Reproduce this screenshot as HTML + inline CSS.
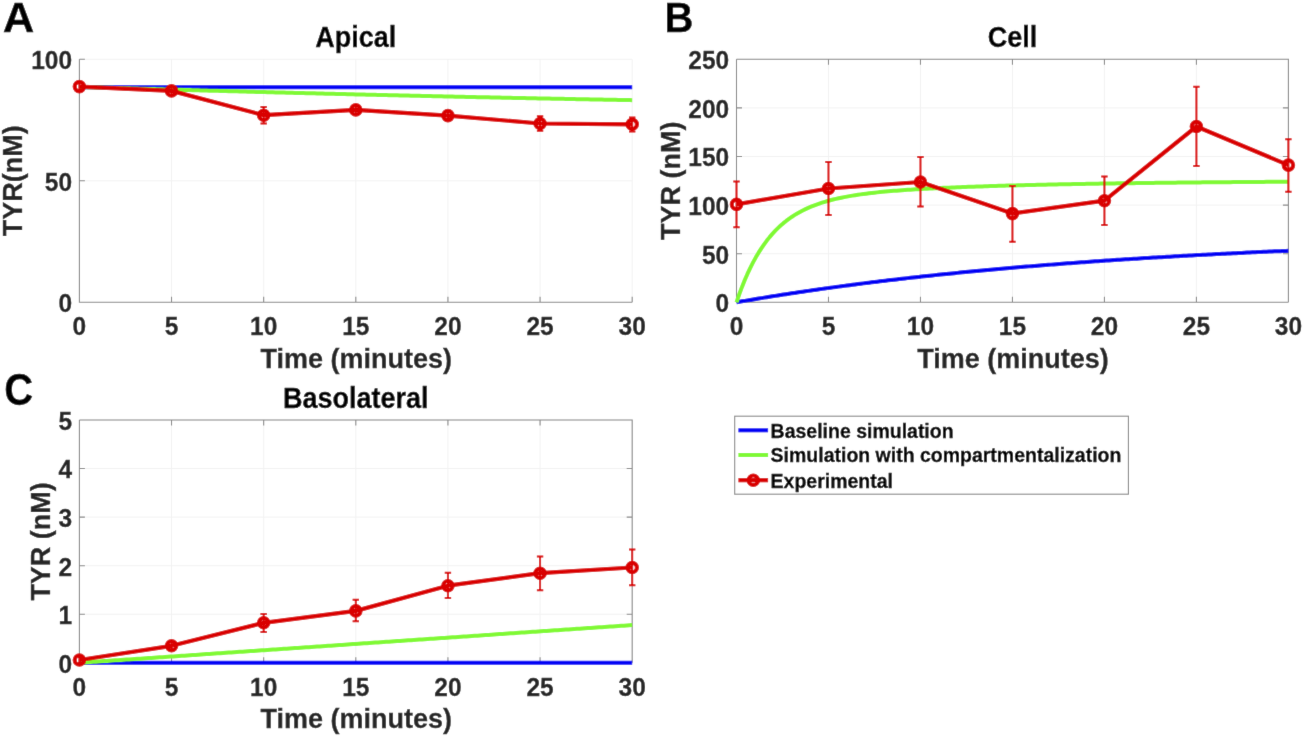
<!DOCTYPE html>
<html><head><meta charset="utf-8"><style>html,body{margin:0;padding:0;background:#fff;overflow:hidden}svg{display:block;will-change:transform}</style></head><body>
<svg width="1304" height="736" viewBox="0 0 1304 736" style="font-family:&quot;Liberation Sans&quot;,sans-serif;font-weight:bold">
<defs><filter id="soft" filterUnits="userSpaceOnUse" x="-4" y="-4" width="1312" height="744"><feConvolveMatrix order="3" kernelMatrix="0.00524 0.06192 0.00524 0.06192 0.73137 0.06192 0.00524 0.06192 0.00524" edgeMode="duplicate" preserveAlpha="true"/></filter></defs>
<g filter="url(#soft)">
<rect x="-10" y="-10" width="1324" height="756" fill="#fff"/>
<path d="M171.53,59.30V302.30M263.67,59.30V302.30M355.80,59.30V302.30M447.93,59.30V302.30M540.07,59.30V302.30M632.20,59.30V302.30M79.40,180.80H632.20M79.40,59.30H632.20" stroke="#f2f2f2" stroke-width="1" fill="none"/>
<path d="M79.40,59.30V302.30H632.20M79.40,302.30v-5.5M171.53,302.30v-5.5M263.67,302.30v-5.5M355.80,302.30v-5.5M447.93,302.30v-5.5M540.07,302.30v-5.5M632.20,302.30v-5.5M79.40,302.30h5.5M79.40,180.80h5.5M79.40,59.30h5.5" stroke="#8a8a8a" stroke-width="1.1" fill="none"/>
<text transform="translate(79.40,335.00) scale(1,1.035)" x="0" y="0" text-anchor="middle" font-size="24.5" fill="#262626" stroke="#262626" stroke-width="0.3">0</text>
<text transform="translate(171.53,335.00) scale(1,1.035)" x="0" y="0" text-anchor="middle" font-size="24.5" fill="#262626" stroke="#262626" stroke-width="0.3">5</text>
<text transform="translate(263.67,335.00) scale(1,1.035)" x="0" y="0" text-anchor="middle" font-size="24.5" fill="#262626" stroke="#262626" stroke-width="0.3">10</text>
<text transform="translate(355.80,335.00) scale(1,1.035)" x="0" y="0" text-anchor="middle" font-size="24.5" fill="#262626" stroke="#262626" stroke-width="0.3">15</text>
<text transform="translate(447.93,335.00) scale(1,1.035)" x="0" y="0" text-anchor="middle" font-size="24.5" fill="#262626" stroke="#262626" stroke-width="0.3">20</text>
<text transform="translate(540.07,335.00) scale(1,1.035)" x="0" y="0" text-anchor="middle" font-size="24.5" fill="#262626" stroke="#262626" stroke-width="0.3">25</text>
<text transform="translate(632.20,335.00) scale(1,1.035)" x="0" y="0" text-anchor="middle" font-size="24.5" fill="#262626" stroke="#262626" stroke-width="0.3">30</text>
<text transform="translate(72.10,312.20) scale(1,1.035)" x="0" y="0" text-anchor="end" font-size="24.5" fill="#262626" stroke="#262626" stroke-width="0.3">0</text>
<text transform="translate(72.10,190.70) scale(1,1.035)" x="0" y="0" text-anchor="end" font-size="24.5" fill="#262626" stroke="#262626" stroke-width="0.3">50</text>
<text transform="translate(72.10,69.20) scale(1,1.035)" x="0" y="0" text-anchor="end" font-size="24.5" fill="#262626" stroke="#262626" stroke-width="0.3">100</text>
<text transform="translate(356.30,367.70) scale(1,1.035)" x="0" y="0" text-anchor="middle" font-size="27" fill="#262626" stroke="#262626" stroke-width="0.3">Time (minutes)</text>
<text transform="translate(22.00,180.80) rotate(-90) scale(1,1.035)" x="0" y="0" text-anchor="middle" font-size="27" fill="#262626" stroke="#262626" stroke-width="0.3">TYR(nM)</text>
<text transform="translate(355.80,46.90) scale(1,1.07)" x="0" y="0" text-anchor="middle" font-size="27" fill="#000" stroke="#000" stroke-width="0.3">Apical</text>
<polyline points="79.40,87.25 82.16,87.25 84.93,87.25 87.69,87.25 90.46,87.25 93.22,87.25 95.98,87.25 98.75,87.25 101.51,87.25 104.28,87.25 107.04,87.25 109.80,87.25 112.57,87.25 115.33,87.25 118.10,87.25 120.86,87.25 123.62,87.25 126.39,87.25 129.15,87.25 131.92,87.25 134.68,87.25 137.44,87.25 140.21,87.25 142.97,87.25 145.74,87.25 148.50,87.25 151.26,87.25 154.03,87.25 156.79,87.25 159.56,87.25 162.32,87.25 165.08,87.25 167.85,87.25 170.61,87.25 173.38,87.25 176.14,87.25 178.90,87.25 181.67,87.25 184.43,87.25 187.20,87.25 189.96,87.25 192.72,87.25 195.49,87.25 198.25,87.25 201.02,87.25 203.78,87.25 206.54,87.25 209.31,87.25 212.07,87.25 214.84,87.25 217.60,87.25 220.36,87.25 223.13,87.25 225.89,87.25 228.66,87.25 231.42,87.25 234.18,87.25 236.95,87.25 239.71,87.25 242.48,87.25 245.24,87.25 248.00,87.25 250.77,87.25 253.53,87.25 256.30,87.25 259.06,87.25 261.82,87.25 264.59,87.25 267.35,87.25 270.12,87.25 272.88,87.25 275.64,87.25 278.41,87.25 281.17,87.25 283.94,87.25 286.70,87.25 289.46,87.25 292.23,87.25 294.99,87.25 297.76,87.25 300.52,87.25 303.28,87.25 306.05,87.25 308.81,87.25 311.58,87.25 314.34,87.25 317.10,87.25 319.87,87.25 322.63,87.25 325.40,87.25 328.16,87.25 330.92,87.25 333.69,87.25 336.45,87.25 339.22,87.25 341.98,87.25 344.74,87.25 347.51,87.25 350.27,87.25 353.04,87.25 355.80,87.25 358.56,87.25 361.33,87.25 364.09,87.25 366.86,87.25 369.62,87.25 372.38,87.25 375.15,87.25 377.91,87.25 380.68,87.25 383.44,87.25 386.20,87.25 388.97,87.25 391.73,87.25 394.50,87.25 397.26,87.25 400.02,87.25 402.79,87.25 405.55,87.25 408.32,87.25 411.08,87.25 413.84,87.25 416.61,87.25 419.37,87.25 422.14,87.25 424.90,87.25 427.66,87.25 430.43,87.25 433.19,87.25 435.96,87.25 438.72,87.25 441.48,87.25 444.25,87.25 447.01,87.25 449.78,87.25 452.54,87.25 455.30,87.25 458.07,87.25 460.83,87.25 463.60,87.25 466.36,87.25 469.12,87.25 471.89,87.25 474.65,87.25 477.42,87.25 480.18,87.25 482.94,87.25 485.71,87.25 488.47,87.25 491.24,87.25 494.00,87.25 496.76,87.25 499.53,87.25 502.29,87.25 505.06,87.25 507.82,87.25 510.58,87.25 513.35,87.25 516.11,87.25 518.88,87.25 521.64,87.25 524.40,87.25 527.17,87.25 529.93,87.25 532.70,87.25 535.46,87.25 538.22,87.25 540.99,87.25 543.75,87.25 546.52,87.25 549.28,87.25 552.04,87.25 554.81,87.25 557.57,87.25 560.34,87.25 563.10,87.25 565.86,87.25 568.63,87.25 571.39,87.25 574.16,87.25 576.92,87.25 579.68,87.25 582.45,87.25 585.21,87.25 587.98,87.25 590.74,87.25 593.50,87.25 596.27,87.25 599.03,87.25 601.80,87.25 604.56,87.25 607.32,87.25 610.09,87.25 612.85,87.25 615.62,87.25 618.38,87.25 621.14,87.25 623.91,87.25 626.67,87.25 629.44,87.25 632.20,87.25" stroke="#0000f5" stroke-width="4.0" fill="none" stroke-linejoin="round"/>
<polyline points="79.40,86.88 82.16,86.96 84.93,87.05 87.69,87.13 90.46,87.21 93.22,87.30 95.98,87.38 98.75,87.46 101.51,87.55 104.28,87.63 107.04,87.71 109.80,87.79 112.57,87.87 115.33,87.96 118.10,88.04 120.86,88.12 123.62,88.20 126.39,88.28 129.15,88.36 131.92,88.44 134.68,88.52 137.44,88.60 140.21,88.68 142.97,88.76 145.74,88.84 148.50,88.92 151.26,89.00 154.03,89.08 156.79,89.16 159.56,89.24 162.32,89.32 165.08,89.40 167.85,89.47 170.61,89.55 173.38,89.63 176.14,89.71 178.90,89.79 181.67,89.86 184.43,89.94 187.20,90.02 189.96,90.09 192.72,90.17 195.49,90.25 198.25,90.32 201.02,90.40 203.78,90.48 206.54,90.55 209.31,90.63 212.07,90.70 214.84,90.78 217.60,90.85 220.36,90.93 223.13,91.00 225.89,91.08 228.66,91.15 231.42,91.23 234.18,91.30 236.95,91.37 239.71,91.45 242.48,91.52 245.24,91.60 248.00,91.67 250.77,91.74 253.53,91.81 256.30,91.89 259.06,91.96 261.82,92.03 264.59,92.10 267.35,92.18 270.12,92.25 272.88,92.32 275.64,92.39 278.41,92.46 281.17,92.53 283.94,92.61 286.70,92.68 289.46,92.75 292.23,92.82 294.99,92.89 297.76,92.96 300.52,93.03 303.28,93.10 306.05,93.17 308.81,93.24 311.58,93.31 314.34,93.37 317.10,93.44 319.87,93.51 322.63,93.58 325.40,93.65 328.16,93.72 330.92,93.79 333.69,93.85 336.45,93.92 339.22,93.99 341.98,94.06 344.74,94.12 347.51,94.19 350.27,94.26 353.04,94.32 355.80,94.39 358.56,94.46 361.33,94.52 364.09,94.59 366.86,94.65 369.62,94.72 372.38,94.78 375.15,94.85 377.91,94.91 380.68,94.98 383.44,95.04 386.20,95.11 388.97,95.17 391.73,95.24 394.50,95.30 397.26,95.36 400.02,95.43 402.79,95.49 405.55,95.55 408.32,95.62 411.08,95.68 413.84,95.74 416.61,95.81 419.37,95.87 422.14,95.93 424.90,95.99 427.66,96.05 430.43,96.12 433.19,96.18 435.96,96.24 438.72,96.30 441.48,96.36 444.25,96.42 447.01,96.48 449.78,96.54 452.54,96.60 455.30,96.66 458.07,96.72 460.83,96.78 463.60,96.84 466.36,96.90 469.12,96.96 471.89,97.02 474.65,97.08 477.42,97.14 480.18,97.20 482.94,97.26 485.71,97.31 488.47,97.37 491.24,97.43 494.00,97.49 496.76,97.54 499.53,97.60 502.29,97.66 505.06,97.72 507.82,97.77 510.58,97.83 513.35,97.89 516.11,97.94 518.88,98.00 521.64,98.05 524.40,98.11 527.17,98.17 529.93,98.22 532.70,98.28 535.46,98.33 538.22,98.39 540.99,98.44 543.75,98.50 546.52,98.55 549.28,98.60 552.04,98.66 554.81,98.71 557.57,98.77 560.34,98.82 563.10,98.87 565.86,98.93 568.63,98.98 571.39,99.03 574.16,99.08 576.92,99.14 579.68,99.19 582.45,99.24 585.21,99.29 587.98,99.34 590.74,99.40 593.50,99.45 596.27,99.50 599.03,99.55 601.80,99.60 604.56,99.65 607.32,99.70 610.09,99.75 612.85,99.80 615.62,99.85 618.38,99.90 621.14,99.95 623.91,100.00 626.67,100.05 629.44,100.10 632.20,100.15" stroke="#80f930" stroke-width="4.0" fill="none" stroke-linejoin="round"/>
<path d="M79.40,82.60V90.60M76.20,82.60h6.4M76.20,90.60h6.4M171.53,86.90V94.90M168.33,86.90h6.4M168.33,94.90h6.4M263.67,107.00V123.50M260.47,107.00h6.4M260.47,123.50h6.4M355.80,105.90V113.90M352.60,105.90h6.4M352.60,113.90h6.4M447.93,111.60V119.60M444.73,111.60h6.4M444.73,119.60h6.4M540.07,116.30V130.80M536.87,116.30h6.4M536.87,130.80h6.4M632.20,117.50V131.40M629.00,117.50h6.4M629.00,131.40h6.4" stroke="#d90000" stroke-width="2" fill="none"/>
<polyline points="79.40,86.60 171.53,90.90 263.67,115.20 355.80,109.90 447.93,115.60 540.07,123.50 632.20,124.30" stroke="#d90000" stroke-width="4.2" fill="none" stroke-linejoin="round"/>
<circle cx="79.40" cy="86.60" r="4.7" stroke="#d90000" stroke-width="4.2" fill="none"/>
<circle cx="171.53" cy="90.90" r="4.7" stroke="#d90000" stroke-width="4.2" fill="none"/>
<circle cx="263.67" cy="115.20" r="4.7" stroke="#d90000" stroke-width="4.2" fill="none"/>
<circle cx="355.80" cy="109.90" r="4.7" stroke="#d90000" stroke-width="4.2" fill="none"/>
<circle cx="447.93" cy="115.60" r="4.7" stroke="#d90000" stroke-width="4.2" fill="none"/>
<circle cx="540.07" cy="123.50" r="4.7" stroke="#d90000" stroke-width="4.2" fill="none"/>
<circle cx="632.20" cy="124.30" r="4.7" stroke="#d90000" stroke-width="4.2" fill="none"/>
<path d="M828.48,59.30V302.30M920.47,59.30V302.30M1012.45,59.30V302.30M1104.43,59.30V302.30M1196.42,59.30V302.30M1288.40,59.30V302.30M736.50,253.70H1288.40M736.50,205.10H1288.40M736.50,156.50H1288.40M736.50,107.90H1288.40M736.50,59.30H1288.40" stroke="#f2f2f2" stroke-width="1" fill="none"/>
<path d="M736.50,59.30V302.30H1288.40M736.50,59.30H1288.40V302.30M736.50,302.30v-5.5M736.50,59.30v5.5M828.48,302.30v-5.5M828.48,59.30v5.5M920.47,302.30v-5.5M920.47,59.30v5.5M1012.45,302.30v-5.5M1012.45,59.30v5.5M1104.43,302.30v-5.5M1104.43,59.30v5.5M1196.42,302.30v-5.5M1196.42,59.30v5.5M1288.40,302.30v-5.5M1288.40,59.30v5.5M736.50,302.30h5.5M1288.40,302.30h-5.5M736.50,253.70h5.5M1288.40,253.70h-5.5M736.50,205.10h5.5M1288.40,205.10h-5.5M736.50,156.50h5.5M1288.40,156.50h-5.5M736.50,107.90h5.5M1288.40,107.90h-5.5M736.50,59.30h5.5M1288.40,59.30h-5.5" stroke="#8a8a8a" stroke-width="1.1" fill="none"/>
<text transform="translate(736.50,335.00) scale(1,1.035)" x="0" y="0" text-anchor="middle" font-size="24.5" fill="#262626" stroke="#262626" stroke-width="0.3">0</text>
<text transform="translate(828.48,335.00) scale(1,1.035)" x="0" y="0" text-anchor="middle" font-size="24.5" fill="#262626" stroke="#262626" stroke-width="0.3">5</text>
<text transform="translate(920.47,335.00) scale(1,1.035)" x="0" y="0" text-anchor="middle" font-size="24.5" fill="#262626" stroke="#262626" stroke-width="0.3">10</text>
<text transform="translate(1012.45,335.00) scale(1,1.035)" x="0" y="0" text-anchor="middle" font-size="24.5" fill="#262626" stroke="#262626" stroke-width="0.3">15</text>
<text transform="translate(1104.43,335.00) scale(1,1.035)" x="0" y="0" text-anchor="middle" font-size="24.5" fill="#262626" stroke="#262626" stroke-width="0.3">20</text>
<text transform="translate(1196.42,335.00) scale(1,1.035)" x="0" y="0" text-anchor="middle" font-size="24.5" fill="#262626" stroke="#262626" stroke-width="0.3">25</text>
<text transform="translate(1288.40,335.00) scale(1,1.035)" x="0" y="0" text-anchor="middle" font-size="24.5" fill="#262626" stroke="#262626" stroke-width="0.3">30</text>
<text transform="translate(729.20,312.20) scale(1,1.035)" x="0" y="0" text-anchor="end" font-size="24.5" fill="#262626" stroke="#262626" stroke-width="0.3">0</text>
<text transform="translate(729.20,263.60) scale(1,1.035)" x="0" y="0" text-anchor="end" font-size="24.5" fill="#262626" stroke="#262626" stroke-width="0.3">50</text>
<text transform="translate(729.20,215.00) scale(1,1.035)" x="0" y="0" text-anchor="end" font-size="24.5" fill="#262626" stroke="#262626" stroke-width="0.3">100</text>
<text transform="translate(729.20,166.40) scale(1,1.035)" x="0" y="0" text-anchor="end" font-size="24.5" fill="#262626" stroke="#262626" stroke-width="0.3">150</text>
<text transform="translate(729.20,117.80) scale(1,1.035)" x="0" y="0" text-anchor="end" font-size="24.5" fill="#262626" stroke="#262626" stroke-width="0.3">200</text>
<text transform="translate(729.20,69.20) scale(1,1.035)" x="0" y="0" text-anchor="end" font-size="24.5" fill="#262626" stroke="#262626" stroke-width="0.3">250</text>
<text transform="translate(1012.95,367.70) scale(1,1.035)" x="0" y="0" text-anchor="middle" font-size="27" fill="#262626" stroke="#262626" stroke-width="0.3">Time (minutes)</text>
<text transform="translate(679.50,180.80) rotate(-90) scale(1,1.035)" x="0" y="0" text-anchor="middle" font-size="27" fill="#262626" stroke="#262626" stroke-width="0.3">TYR (nM)</text>
<text transform="translate(1012.45,46.90) scale(1,1.07)" x="0" y="0" text-anchor="middle" font-size="27" fill="#000" stroke="#000" stroke-width="0.3">Cell</text>
<polyline points="736.50,302.30 739.26,301.82 742.02,301.34 744.78,300.87 747.54,300.40 750.30,299.93 753.06,299.47 755.82,299.01 758.58,298.55 761.34,298.10 764.10,297.65 766.85,297.20 769.61,296.76 772.37,296.32 775.13,295.88 777.89,295.44 780.65,295.01 783.41,294.58 786.17,294.16 788.93,293.74 791.69,293.32 794.45,292.90 797.21,292.49 799.97,292.08 802.73,291.67 805.49,291.26 808.25,290.86 811.01,290.46 813.77,290.06 816.53,289.67 819.28,289.28 822.04,288.89 824.80,288.51 827.56,288.12 830.32,287.74 833.08,287.37 835.84,286.99 838.60,286.62 841.36,286.25 844.12,285.88 846.88,285.52 849.64,285.16 852.40,284.80 855.16,284.44 857.92,284.09 860.68,283.74 863.44,283.39 866.20,283.04 868.96,282.70 871.72,282.35 874.48,282.02 877.23,281.68 879.99,281.34 882.75,281.01 885.51,280.68 888.27,280.35 891.03,280.03 893.79,279.71 896.55,279.39 899.31,279.07 902.07,278.75 904.83,278.44 907.59,278.13 910.35,277.82 913.11,277.51 915.87,277.20 918.63,276.90 921.39,276.60 924.15,276.30 926.91,276.00 929.66,275.71 932.42,275.42 935.18,275.13 937.94,274.84 940.70,274.55 943.46,274.27 946.22,273.99 948.98,273.71 951.74,273.43 954.50,273.15 957.26,272.88 960.02,272.60 962.78,272.33 965.54,272.07 968.30,271.80 971.06,271.53 973.82,271.27 976.58,271.01 979.34,270.75 982.10,270.49 984.86,270.24 987.61,269.98 990.37,269.73 993.13,269.48 995.89,269.23 998.65,268.99 1001.41,268.74 1004.17,268.50 1006.93,268.26 1009.69,268.02 1012.45,267.78 1015.21,267.54 1017.97,267.31 1020.73,267.07 1023.49,266.84 1026.25,266.61 1029.01,266.38 1031.77,266.16 1034.53,265.93 1037.29,265.71 1040.05,265.49 1042.80,265.27 1045.56,265.05 1048.32,264.83 1051.08,264.62 1053.84,264.40 1056.60,264.19 1059.36,263.98 1062.12,263.77 1064.88,263.56 1067.64,263.35 1070.40,263.15 1073.16,262.94 1075.92,262.74 1078.68,262.54 1081.44,262.34 1084.20,262.14 1086.96,261.95 1089.72,261.75 1092.48,261.56 1095.24,261.36 1097.99,261.17 1100.75,260.98 1103.51,260.79 1106.27,260.61 1109.03,260.42 1111.79,260.24 1114.55,260.05 1117.31,259.87 1120.07,259.69 1122.83,259.51 1125.59,259.33 1128.35,259.16 1131.11,258.98 1133.87,258.81 1136.63,258.63 1139.39,258.46 1142.15,258.29 1144.91,258.12 1147.67,257.95 1150.43,257.79 1153.18,257.62 1155.94,257.45 1158.70,257.29 1161.46,257.13 1164.22,256.97 1166.98,256.81 1169.74,256.65 1172.50,256.49 1175.26,256.33 1178.02,256.18 1180.78,256.02 1183.54,255.87 1186.30,255.72 1189.06,255.57 1191.82,255.42 1194.58,255.27 1197.34,255.12 1200.10,254.97 1202.86,254.82 1205.62,254.68 1208.37,254.54 1211.13,254.39 1213.89,254.25 1216.65,254.11 1219.41,253.97 1222.17,253.83 1224.93,253.69 1227.69,253.56 1230.45,253.42 1233.21,253.28 1235.97,253.15 1238.73,253.02 1241.49,252.88 1244.25,252.75 1247.01,252.62 1249.77,252.49 1252.53,252.36 1255.29,252.24 1258.05,252.11 1260.81,251.98 1263.56,251.86 1266.32,251.73 1269.08,251.61 1271.84,251.49 1274.60,251.37 1277.36,251.25 1280.12,251.13 1282.88,251.01 1285.64,250.89 1288.40,250.77" stroke="#0000f5" stroke-width="4.0" fill="none" stroke-linejoin="round"/>
<polyline points="736.50,302.30 739.26,294.31 742.02,286.91 744.78,280.07 747.54,273.72 750.30,267.85 753.06,262.40 755.82,257.35 758.58,252.68 761.34,248.34 764.10,244.32 766.85,240.59 769.61,237.12 772.37,233.91 775.13,230.92 777.89,228.15 780.65,225.57 783.41,223.18 786.17,220.95 788.93,218.88 791.69,216.95 794.45,215.16 797.21,213.48 799.97,211.93 802.73,210.47 805.49,209.12 808.25,207.85 811.01,206.67 813.77,205.56 816.53,204.52 819.28,203.56 822.04,202.65 824.80,201.80 827.56,201.00 830.32,200.25 833.08,199.55 835.84,198.89 838.60,198.26 841.36,197.68 844.12,197.12 846.88,196.60 849.64,196.11 852.40,195.64 855.16,195.20 857.92,194.78 860.68,194.38 863.44,194.01 866.20,193.65 868.96,193.31 871.72,192.98 874.48,192.68 877.23,192.38 879.99,192.10 882.75,191.83 885.51,191.57 888.27,191.33 891.03,191.09 893.79,190.86 896.55,190.64 899.31,190.43 902.07,190.23 904.83,190.03 907.59,189.85 910.35,189.66 913.11,189.49 915.87,189.32 918.63,189.15 921.39,188.99 924.15,188.84 926.91,188.69 929.66,188.54 932.42,188.40 935.18,188.26 937.94,188.13 940.70,188.00 943.46,187.87 946.22,187.75 948.98,187.63 951.74,187.51 954.50,187.40 957.26,187.28 960.02,187.17 962.78,187.07 965.54,186.96 968.30,186.86 971.06,186.76 973.82,186.66 976.58,186.56 979.34,186.47 982.10,186.38 984.86,186.29 987.61,186.20 990.37,186.11 993.13,186.02 995.89,185.94 998.65,185.86 1001.41,185.78 1004.17,185.70 1006.93,185.62 1009.69,185.54 1012.45,185.47 1015.21,185.39 1017.97,185.32 1020.73,185.25 1023.49,185.18 1026.25,185.11 1029.01,185.04 1031.77,184.97 1034.53,184.91 1037.29,184.84 1040.05,184.78 1042.80,184.72 1045.56,184.66 1048.32,184.60 1051.08,184.54 1053.84,184.48 1056.60,184.42 1059.36,184.36 1062.12,184.31 1064.88,184.25 1067.64,184.20 1070.40,184.15 1073.16,184.09 1075.92,184.04 1078.68,183.99 1081.44,183.94 1084.20,183.89 1086.96,183.84 1089.72,183.80 1092.48,183.75 1095.24,183.70 1097.99,183.66 1100.75,183.61 1103.51,183.57 1106.27,183.53 1109.03,183.48 1111.79,183.44 1114.55,183.40 1117.31,183.36 1120.07,183.32 1122.83,183.28 1125.59,183.24 1128.35,183.20 1131.11,183.16 1133.87,183.13 1136.63,183.09 1139.39,183.05 1142.15,183.02 1144.91,182.98 1147.67,182.95 1150.43,182.92 1153.18,182.88 1155.94,182.85 1158.70,182.82 1161.46,182.79 1164.22,182.75 1166.98,182.72 1169.74,182.69 1172.50,182.66 1175.26,182.63 1178.02,182.60 1180.78,182.58 1183.54,182.55 1186.30,182.52 1189.06,182.49 1191.82,182.47 1194.58,182.44 1197.34,182.41 1200.10,182.39 1202.86,182.36 1205.62,182.34 1208.37,182.31 1211.13,182.29 1213.89,182.26 1216.65,182.24 1219.41,182.22 1222.17,182.19 1224.93,182.17 1227.69,182.15 1230.45,182.13 1233.21,182.11 1235.97,182.09 1238.73,182.07 1241.49,182.04 1244.25,182.02 1247.01,182.00 1249.77,181.99 1252.53,181.97 1255.29,181.95 1258.05,181.93 1260.81,181.91 1263.56,181.89 1266.32,181.87 1269.08,181.86 1271.84,181.84 1274.60,181.82 1277.36,181.81 1280.12,181.79 1282.88,181.77 1285.64,181.76 1288.40,181.74" stroke="#80f930" stroke-width="4.0" fill="none" stroke-linejoin="round"/>
<path d="M736.50,181.40V227.30M733.30,181.40h6.4M733.30,227.30h6.4M828.48,162.00V215.00M825.28,162.00h6.4M825.28,215.00h6.4M920.47,156.90V206.60M917.27,156.90h6.4M917.27,206.60h6.4M1012.45,186.00V241.80M1009.25,186.00h6.4M1009.25,241.80h6.4M1104.43,176.40V225.00M1101.23,176.40h6.4M1101.23,225.00h6.4M1196.42,86.80V165.90M1193.22,86.80h6.4M1193.22,165.90h6.4M1288.40,139.30V191.70M1285.20,139.30h6.4M1285.20,191.70h6.4" stroke="#d90000" stroke-width="2" fill="none"/>
<polyline points="736.50,204.40 828.48,188.50 920.47,182.00 1012.45,213.60 1104.43,200.70 1196.42,126.50 1288.40,165.10" stroke="#d90000" stroke-width="4.2" fill="none" stroke-linejoin="round"/>
<circle cx="736.50" cy="204.40" r="4.7" stroke="#d90000" stroke-width="4.2" fill="none"/>
<circle cx="828.48" cy="188.50" r="4.7" stroke="#d90000" stroke-width="4.2" fill="none"/>
<circle cx="920.47" cy="182.00" r="4.7" stroke="#d90000" stroke-width="4.2" fill="none"/>
<circle cx="1012.45" cy="213.60" r="4.7" stroke="#d90000" stroke-width="4.2" fill="none"/>
<circle cx="1104.43" cy="200.70" r="4.7" stroke="#d90000" stroke-width="4.2" fill="none"/>
<circle cx="1196.42" cy="126.50" r="4.7" stroke="#d90000" stroke-width="4.2" fill="none"/>
<circle cx="1288.40" cy="165.10" r="4.7" stroke="#d90000" stroke-width="4.2" fill="none"/>
<path d="M171.53,420.00V662.80M263.67,420.00V662.80M355.80,420.00V662.80M447.93,420.00V662.80M540.07,420.00V662.80M632.20,420.00V662.80M79.40,614.24H632.20M79.40,565.68H632.20M79.40,517.12H632.20M79.40,468.56H632.20M79.40,420.00H632.20" stroke="#f2f2f2" stroke-width="1" fill="none"/>
<path d="M79.40,420.00V662.80H632.20M79.40,420.00H632.20V662.80M79.40,662.80v-5.5M79.40,420.00v5.5M171.53,662.80v-5.5M171.53,420.00v5.5M263.67,662.80v-5.5M263.67,420.00v5.5M355.80,662.80v-5.5M355.80,420.00v5.5M447.93,662.80v-5.5M447.93,420.00v5.5M540.07,662.80v-5.5M540.07,420.00v5.5M632.20,662.80v-5.5M632.20,420.00v5.5M79.40,662.80h5.5M632.20,662.80h-5.5M79.40,614.24h5.5M632.20,614.24h-5.5M79.40,565.68h5.5M632.20,565.68h-5.5M79.40,517.12h5.5M632.20,517.12h-5.5M79.40,468.56h5.5M632.20,468.56h-5.5M79.40,420.00h5.5M632.20,420.00h-5.5" stroke="#8a8a8a" stroke-width="1.1" fill="none"/>
<text transform="translate(79.40,695.50) scale(1,1.035)" x="0" y="0" text-anchor="middle" font-size="24.5" fill="#262626" stroke="#262626" stroke-width="0.3">0</text>
<text transform="translate(171.53,695.50) scale(1,1.035)" x="0" y="0" text-anchor="middle" font-size="24.5" fill="#262626" stroke="#262626" stroke-width="0.3">5</text>
<text transform="translate(263.67,695.50) scale(1,1.035)" x="0" y="0" text-anchor="middle" font-size="24.5" fill="#262626" stroke="#262626" stroke-width="0.3">10</text>
<text transform="translate(355.80,695.50) scale(1,1.035)" x="0" y="0" text-anchor="middle" font-size="24.5" fill="#262626" stroke="#262626" stroke-width="0.3">15</text>
<text transform="translate(447.93,695.50) scale(1,1.035)" x="0" y="0" text-anchor="middle" font-size="24.5" fill="#262626" stroke="#262626" stroke-width="0.3">20</text>
<text transform="translate(540.07,695.50) scale(1,1.035)" x="0" y="0" text-anchor="middle" font-size="24.5" fill="#262626" stroke="#262626" stroke-width="0.3">25</text>
<text transform="translate(632.20,695.50) scale(1,1.035)" x="0" y="0" text-anchor="middle" font-size="24.5" fill="#262626" stroke="#262626" stroke-width="0.3">30</text>
<text transform="translate(72.10,672.70) scale(1,1.035)" x="0" y="0" text-anchor="end" font-size="24.5" fill="#262626" stroke="#262626" stroke-width="0.3">0</text>
<text transform="translate(72.10,624.14) scale(1,1.035)" x="0" y="0" text-anchor="end" font-size="24.5" fill="#262626" stroke="#262626" stroke-width="0.3">1</text>
<text transform="translate(72.10,575.58) scale(1,1.035)" x="0" y="0" text-anchor="end" font-size="24.5" fill="#262626" stroke="#262626" stroke-width="0.3">2</text>
<text transform="translate(72.10,527.02) scale(1,1.035)" x="0" y="0" text-anchor="end" font-size="24.5" fill="#262626" stroke="#262626" stroke-width="0.3">3</text>
<text transform="translate(72.10,478.46) scale(1,1.035)" x="0" y="0" text-anchor="end" font-size="24.5" fill="#262626" stroke="#262626" stroke-width="0.3">4</text>
<text transform="translate(72.10,429.90) scale(1,1.035)" x="0" y="0" text-anchor="end" font-size="24.5" fill="#262626" stroke="#262626" stroke-width="0.3">5</text>
<text transform="translate(356.30,728.20) scale(1,1.035)" x="0" y="0" text-anchor="middle" font-size="27" fill="#262626" stroke="#262626" stroke-width="0.3">Time (minutes)</text>
<text transform="translate(49.60,541.40) rotate(-90) scale(1,1.035)" x="0" y="0" text-anchor="middle" font-size="27" fill="#262626" stroke="#262626" stroke-width="0.3">TYR (nM)</text>
<text transform="translate(355.80,407.60) scale(1,1.07)" x="0" y="0" text-anchor="middle" font-size="27" fill="#000" stroke="#000" stroke-width="0.3">Basolateral</text>
<polyline points="79.40,662.80 82.16,662.80 84.93,662.80 87.69,662.80 90.46,662.80 93.22,662.80 95.98,662.80 98.75,662.80 101.51,662.80 104.28,662.80 107.04,662.80 109.80,662.80 112.57,662.80 115.33,662.80 118.10,662.80 120.86,662.80 123.62,662.80 126.39,662.80 129.15,662.80 131.92,662.80 134.68,662.80 137.44,662.80 140.21,662.80 142.97,662.80 145.74,662.80 148.50,662.80 151.26,662.80 154.03,662.80 156.79,662.80 159.56,662.80 162.32,662.80 165.08,662.80 167.85,662.80 170.61,662.80 173.38,662.80 176.14,662.80 178.90,662.80 181.67,662.80 184.43,662.80 187.20,662.80 189.96,662.80 192.72,662.80 195.49,662.80 198.25,662.80 201.02,662.80 203.78,662.80 206.54,662.80 209.31,662.80 212.07,662.80 214.84,662.80 217.60,662.80 220.36,662.80 223.13,662.80 225.89,662.80 228.66,662.80 231.42,662.80 234.18,662.80 236.95,662.80 239.71,662.80 242.48,662.80 245.24,662.80 248.00,662.80 250.77,662.80 253.53,662.80 256.30,662.80 259.06,662.80 261.82,662.80 264.59,662.80 267.35,662.80 270.12,662.80 272.88,662.80 275.64,662.80 278.41,662.80 281.17,662.80 283.94,662.80 286.70,662.80 289.46,662.80 292.23,662.80 294.99,662.80 297.76,662.80 300.52,662.80 303.28,662.80 306.05,662.80 308.81,662.80 311.58,662.80 314.34,662.80 317.10,662.80 319.87,662.80 322.63,662.80 325.40,662.80 328.16,662.80 330.92,662.80 333.69,662.80 336.45,662.80 339.22,662.80 341.98,662.80 344.74,662.80 347.51,662.80 350.27,662.80 353.04,662.80 355.80,662.80 358.56,662.80 361.33,662.80 364.09,662.80 366.86,662.80 369.62,662.80 372.38,662.80 375.15,662.80 377.91,662.80 380.68,662.80 383.44,662.80 386.20,662.80 388.97,662.80 391.73,662.80 394.50,662.80 397.26,662.80 400.02,662.80 402.79,662.80 405.55,662.80 408.32,662.80 411.08,662.80 413.84,662.80 416.61,662.80 419.37,662.80 422.14,662.80 424.90,662.80 427.66,662.80 430.43,662.80 433.19,662.80 435.96,662.80 438.72,662.80 441.48,662.80 444.25,662.80 447.01,662.80 449.78,662.80 452.54,662.80 455.30,662.80 458.07,662.80 460.83,662.80 463.60,662.80 466.36,662.80 469.12,662.80 471.89,662.80 474.65,662.80 477.42,662.80 480.18,662.80 482.94,662.80 485.71,662.80 488.47,662.80 491.24,662.80 494.00,662.80 496.76,662.80 499.53,662.80 502.29,662.80 505.06,662.80 507.82,662.80 510.58,662.80 513.35,662.80 516.11,662.80 518.88,662.80 521.64,662.80 524.40,662.80 527.17,662.80 529.93,662.80 532.70,662.80 535.46,662.80 538.22,662.80 540.99,662.80 543.75,662.80 546.52,662.80 549.28,662.80 552.04,662.80 554.81,662.80 557.57,662.80 560.34,662.80 563.10,662.80 565.86,662.80 568.63,662.80 571.39,662.80 574.16,662.80 576.92,662.80 579.68,662.80 582.45,662.80 585.21,662.80 587.98,662.80 590.74,662.80 593.50,662.80 596.27,662.80 599.03,662.80 601.80,662.80 604.56,662.80 607.32,662.80 610.09,662.80 612.85,662.80 615.62,662.80 618.38,662.80 621.14,662.80 623.91,662.80 626.67,662.80 629.44,662.80 632.20,662.80" stroke="#0000f5" stroke-width="4.0" fill="none" stroke-linejoin="round"/>
<polyline points="79.40,662.80 82.16,662.61 84.93,662.42 87.69,662.23 90.46,662.05 93.22,661.86 95.98,661.67 98.75,661.48 101.51,661.29 104.28,661.10 107.04,660.91 109.80,660.72 112.57,660.54 115.33,660.35 118.10,660.16 120.86,659.97 123.62,659.78 126.39,659.59 129.15,659.40 131.92,659.22 134.68,659.03 137.44,658.84 140.21,658.65 142.97,658.46 145.74,658.27 148.50,658.08 151.26,657.89 154.03,657.71 156.79,657.52 159.56,657.33 162.32,657.14 165.08,656.95 167.85,656.76 170.61,656.57 173.38,656.39 176.14,656.20 178.90,656.01 181.67,655.82 184.43,655.63 187.20,655.44 189.96,655.25 192.72,655.07 195.49,654.88 198.25,654.69 201.02,654.50 203.78,654.31 206.54,654.12 209.31,653.93 212.07,653.74 214.84,653.56 217.60,653.37 220.36,653.18 223.13,652.99 225.89,652.80 228.66,652.61 231.42,652.42 234.18,652.24 236.95,652.05 239.71,651.86 242.48,651.67 245.24,651.48 248.00,651.29 250.77,651.10 253.53,650.91 256.30,650.73 259.06,650.54 261.82,650.35 264.59,650.16 267.35,649.97 270.12,649.78 272.88,649.59 275.64,649.41 278.41,649.22 281.17,649.03 283.94,648.84 286.70,648.65 289.46,648.46 292.23,648.27 294.99,648.08 297.76,647.90 300.52,647.71 303.28,647.52 306.05,647.33 308.81,647.14 311.58,646.95 314.34,646.76 317.10,646.58 319.87,646.39 322.63,646.20 325.40,646.01 328.16,645.82 330.92,645.63 333.69,645.44 336.45,645.26 339.22,645.07 341.98,644.88 344.74,644.69 347.51,644.50 350.27,644.31 353.04,644.12 355.80,643.93 358.56,643.75 361.33,643.56 364.09,643.37 366.86,643.18 369.62,642.99 372.38,642.80 375.15,642.61 377.91,642.43 380.68,642.24 383.44,642.05 386.20,641.86 388.97,641.67 391.73,641.48 394.50,641.29 397.26,641.10 400.02,640.92 402.79,640.73 405.55,640.54 408.32,640.35 411.08,640.16 413.84,639.97 416.61,639.78 419.37,639.60 422.14,639.41 424.90,639.22 427.66,639.03 430.43,638.84 433.19,638.65 435.96,638.46 438.72,638.27 441.48,638.09 444.25,637.90 447.01,637.71 449.78,637.52 452.54,637.33 455.30,637.14 458.07,636.95 460.83,636.77 463.60,636.58 466.36,636.39 469.12,636.20 471.89,636.01 474.65,635.82 477.42,635.63 480.18,635.44 482.94,635.26 485.71,635.07 488.47,634.88 491.24,634.69 494.00,634.50 496.76,634.31 499.53,634.12 502.29,633.94 505.06,633.75 507.82,633.56 510.58,633.37 513.35,633.18 516.11,632.99 518.88,632.80 521.64,632.62 524.40,632.43 527.17,632.24 529.93,632.05 532.70,631.86 535.46,631.67 538.22,631.48 540.99,631.29 543.75,631.11 546.52,630.92 549.28,630.73 552.04,630.54 554.81,630.35 557.57,630.16 560.34,629.97 563.10,629.79 565.86,629.60 568.63,629.41 571.39,629.22 574.16,629.03 576.92,628.84 579.68,628.65 582.45,628.46 585.21,628.28 587.98,628.09 590.74,627.90 593.50,627.71 596.27,627.52 599.03,627.33 601.80,627.14 604.56,626.96 607.32,626.77 610.09,626.58 612.85,626.39 615.62,626.20 618.38,626.01 621.14,625.82 623.91,625.63 626.67,625.45 629.44,625.26 632.20,625.07" stroke="#80f930" stroke-width="4.0" fill="none" stroke-linejoin="round"/>
<path d="M79.40,657.00V663.00M76.20,657.00h6.4M76.20,663.00h6.4M171.53,642.00V649.60M168.33,642.00h6.4M168.33,649.60h6.4M263.67,614.00V632.00M260.47,614.00h6.4M260.47,632.00h6.4M355.80,599.80V621.20M352.60,599.80h6.4M352.60,621.20h6.4M447.93,572.80V598.10M444.73,572.80h6.4M444.73,598.10h6.4M540.07,556.50V590.30M536.87,556.50h6.4M536.87,590.30h6.4M632.20,549.60V585.20M629.00,549.60h6.4M629.00,585.20h6.4" stroke="#d90000" stroke-width="2" fill="none"/>
<polyline points="79.40,660.00 171.53,645.80 263.67,622.80 355.80,610.90 447.93,585.70 540.07,573.20 632.20,567.50" stroke="#d90000" stroke-width="4.2" fill="none" stroke-linejoin="round"/>
<circle cx="79.40" cy="660.00" r="4.7" stroke="#d90000" stroke-width="4.2" fill="none"/>
<circle cx="171.53" cy="645.80" r="4.7" stroke="#d90000" stroke-width="4.2" fill="none"/>
<circle cx="263.67" cy="622.80" r="4.7" stroke="#d90000" stroke-width="4.2" fill="none"/>
<circle cx="355.80" cy="610.90" r="4.7" stroke="#d90000" stroke-width="4.2" fill="none"/>
<circle cx="447.93" cy="585.70" r="4.7" stroke="#d90000" stroke-width="4.2" fill="none"/>
<circle cx="540.07" cy="573.20" r="4.7" stroke="#d90000" stroke-width="4.2" fill="none"/>
<circle cx="632.20" cy="567.50" r="4.7" stroke="#d90000" stroke-width="4.2" fill="none"/>
<text transform="translate(2.70,32.30) scale(1.055,1.01)" x="0" y="0" text-anchor="start" font-size="41.5" fill="#000" stroke="#000" stroke-width="0.3">A</text>
<text transform="translate(664.60,32.10) scale(0.965,1.01)" x="0" y="0" text-anchor="start" font-size="41.5" fill="#000" stroke="#000" stroke-width="0.3">B</text>
<text transform="translate(4.30,404.90) scale(0.965,1.055)" x="0" y="0" text-anchor="start" font-size="41.5" fill="#000" stroke="#000" stroke-width="0.3">C</text>
<rect x="734.7" y="416.2" width="393.7" height="78.0" fill="#fff" stroke="#8a8a8a" stroke-width="1.1"/>
<path d="M738.4,430.3H768.1" stroke="#0000f5" stroke-width="4.0"/>
<path d="M738.4,455.0H768.1" stroke="#80f930" stroke-width="4.0"/>
<path d="M738.4,480.2H768.1" stroke="#d90000" stroke-width="4.2"/>
<circle cx="753.3" cy="480.2" r="4.7" stroke="#d90000" stroke-width="4.2" fill="none"/>
<text transform="translate(770.60,438.20) scale(1,1.035)" x="0" y="0" text-anchor="start" font-size="19.5" fill="#000" stroke="#000" stroke-width="0.3">Baseline simulation</text>
<text transform="translate(770.60,462.40) scale(1,1.035)" x="0" y="0" text-anchor="start" font-size="19.5" fill="#000" stroke="#000" stroke-width="0.3">Simulation with compartmentalization</text>
<text transform="translate(770.60,487.60) scale(1,1.035)" x="0" y="0" text-anchor="start" font-size="19.5" fill="#000" stroke="#000" stroke-width="0.3">Experimental</text>
</g></svg>
</body></html>
